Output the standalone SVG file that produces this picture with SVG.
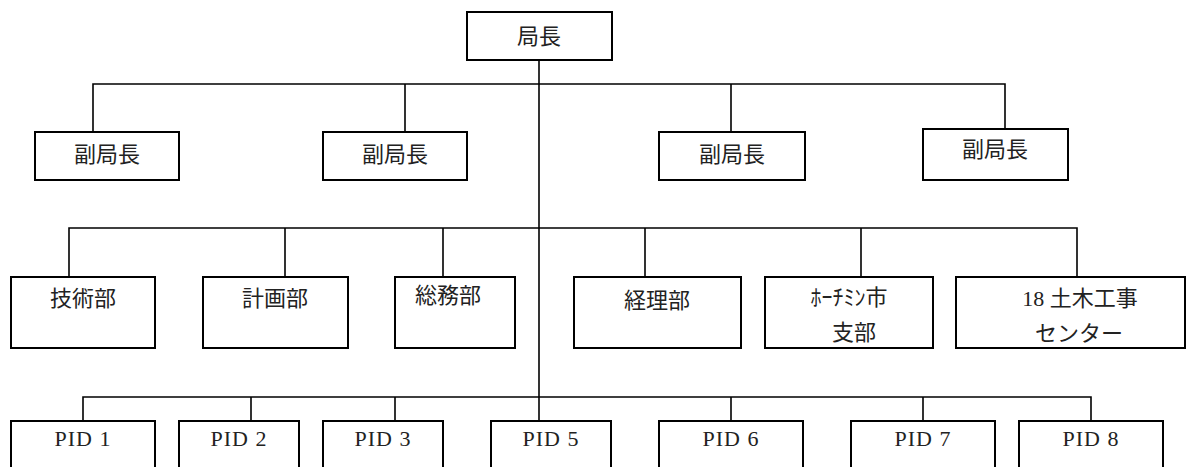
<svg xmlns="http://www.w3.org/2000/svg" width="1188" height="467" viewBox="0 0 1188 467">
<style>
.box{fill:#fff;stroke:#000;stroke-width:2}
.ln{fill:none;stroke:#000;stroke-width:1.6}
.jp{font-family:"Liberation Serif","Noto Sans CJK JP",sans-serif;font-size:22px;fill:#222;text-anchor:middle;dominant-baseline:central}
.pid{font-family:"Liberation Serif",serif;font-size:22px;fill:#222;text-anchor:middle;letter-spacing:1px}
</style>
<rect width="1188" height="467" fill="#fff"/>
<g id="connectors">
<path class="ln" d="M539 60V421"/>
<path class="ln" d="M93 132V84H1005V129M405 84V132M731 84V132"/>
<path class="ln" d="M69 277V228H1077V277M285 228V277M443 228V277M645 228V277M861 228V277"/>
<path class="ln" d="M83 421V397H1091V421M251 397V421M395 397V421M731 397V421M923 397V421"/>
</g>
<g id="n-chief"><rect class="box" x="467" y="12" width="145" height="48"/><text class="jp" x="539" y="36">局長</text></g>
<g id="n-dep1"><rect class="box" x="35" y="132" width="144" height="48"/><text class="jp" x="107" y="154">副局長</text></g>
<g id="n-dep2"><rect class="box" x="323" y="132" width="144" height="48"/><text class="jp" x="395" y="154">副局長</text></g>
<g id="n-dep3"><rect class="box" x="659" y="132" width="146" height="48"/><text class="jp" x="732" y="154">副局長</text></g>
<g id="n-dep4"><rect class="box" x="923" y="129" width="145" height="51"/><text class="jp" x="995" y="149">副局長</text></g>
<g id="n-tech"><rect class="box" x="11" y="277" width="144" height="71"/><text class="jp" x="83" y="298">技術部</text></g>
<g id="n-plan"><rect class="box" x="203" y="277" width="145" height="71"/><text class="jp" x="275" y="298">計画部</text></g>
<g id="n-gen"><rect class="box" x="395" y="277" width="120" height="71"/><text class="jp" x="448" y="295">総務部</text></g>
<g id="n-acc"><rect class="box" x="574" y="277" width="167" height="71"/><text class="jp" x="657" y="300">経理部</text></g>
<g id="n-hcm"><rect class="box" x="765" y="277" width="168" height="71"/><text class="jp" x="849" y="297">ﾎｰﾁﾐﾝ市</text><text class="jp" x="854" y="332">支部</text></g>
<g id="n-18"><rect class="box" x="956" y="277" width="229" height="71"/><text class="jp" x="1080" y="298">18 土木工事</text><text class="jp" x="1079" y="333">センター</text></g>
<g id="n-pid1"><rect class="box" x="11" y="421" width="144" height="60"/><text class="pid" x="83" y="446">PID 1</text></g>
<g id="n-pid2"><rect class="box" x="179" y="421" width="120" height="60"/><text class="pid" x="239" y="446">PID 2</text></g>
<g id="n-pid3"><rect class="box" x="323" y="421" width="120" height="60"/><text class="pid" x="383" y="446">PID 3</text></g>
<g id="n-pid5"><rect class="box" x="491" y="421" width="120" height="60"/><text class="pid" x="551" y="446">PID 5</text></g>
<g id="n-pid6"><rect class="box" x="659" y="421" width="144" height="60"/><text class="pid" x="731" y="446">PID 6</text></g>
<g id="n-pid7"><rect class="box" x="851" y="421" width="144" height="60"/><text class="pid" x="923" y="446">PID 7</text></g>
<g id="n-pid8"><rect class="box" x="1019" y="421" width="144" height="60"/><text class="pid" x="1091" y="446">PID 8</text></g>
</svg>
